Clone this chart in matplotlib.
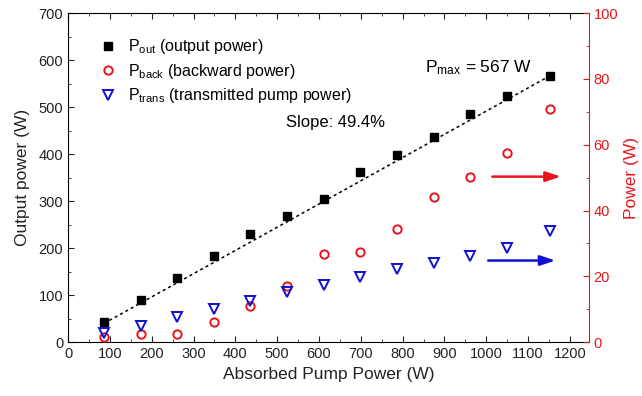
import matplotlib
matplotlib.use("Agg")
import matplotlib.pyplot as plt
import numpy as np
from matplotlib.ticker import MultipleLocator

plt.rcParams['font.family'] = ['Liberation Sans', 'DejaVu Sans']
plt.rcParams['mathtext.fontset'] = 'custom'
plt.rcParams['mathtext.rm'] = 'Liberation Sans'
plt.rcParams['mathtext.it'] = 'Liberation Sans:italic'

# Data
absorbed = [86, 174, 261, 348, 436, 523, 611, 699, 786, 874, 962, 1049, 1153]
p_out = [42, 89, 137, 184, 229, 268, 305, 361, 398, 437, 486, 523, 567]
p_back = [1.6, 2.4, 2.6, 6.0, 11.0, 17.0, 26.7, 27.4, 34.3, 44.2, 50.2, 57.4, 71.0]
p_trans = [2.8, 4.9, 7.7, 10.1, 12.5, 15.3, 17.5, 19.7, 22.3, 24.1, 26.1, 28.7, 33.7]
slope = 0.494
p_max = 567

red = '#e8141c'
blue = '#1010d0'

fig = plt.figure(figsize=(6.42, 3.96), dpi=100)
ax = fig.add_axes([0.106, 0.136, 0.811, 0.831])
ax2 = ax.twinx()

# fit line
xf = np.array([absorbed[0], absorbed[-1]])
b = p_max - slope * absorbed[-1]
ax.plot(xf, slope * xf + b, color='black', ls=(0, (2, 2)), lw=1.1, zorder=2)

h1, = ax.plot(absorbed, p_out, 's', color='black', ms=5.5, ls='none', zorder=3,
              label=r'P$_{\rm out}$ (output power)')
h2, = ax2.plot(absorbed, p_back, 'o', mfc='none', mec=red, mew=1.4, ms=6, ls='none',
               label=r'P$_{\rm back}$ (backward power)')
h3, = ax2.plot(absorbed, p_trans, 'v', mfc='none', mec=blue, mew=1.4, ms=6.5, ls='none',
               label=r'P$_{\rm trans}$ (transmitted pump power)')

ax.set_xlim(0, 1245)
ax.set_ylim(0, 700)
ax2.set_ylim(0, 100)

ax.xaxis.set_major_locator(MultipleLocator(100))
ax.xaxis.set_minor_locator(MultipleLocator(50))
ax.yaxis.set_major_locator(MultipleLocator(100))
ax.yaxis.set_minor_locator(MultipleLocator(50))
ax2.yaxis.set_major_locator(MultipleLocator(20))
ax2.yaxis.set_minor_locator(MultipleLocator(10))

ax.tick_params(which='both', direction='in', top=True, right=False, labelsize=10.5, colors='#222222')
ax.tick_params(which='major', length=4)
ax.tick_params(which='minor', length=2.5)
ax2.tick_params(which='both', direction='in', colors=red, labelsize=10.5)
ax2.tick_params(which='major', length=4)
ax2.tick_params(which='minor', length=2.5)
ax2.spines['right'].set_color(red)
for s in ['left', 'bottom', 'top']:
    ax2.spines[s].set_visible(False)
ax.spines['right'].set_visible(False)

ax.set_xlabel('Absorbed Pump Power (W)', fontsize=12.5, color='#222222')
ax.set_ylabel('Output power (W)', fontsize=12.5, color='#222222', labelpad=6)
ax2.set_ylabel('Power (W)', fontsize=12.5, color=red)

ax.text(639, 468, 'Slope: 49.4%', fontsize=12, ha='center', va='center')
ax.text(982, 583, r'P$_{\rm max}$ = 567 W', fontsize=12.5, ha='center', va='center')

ax2.annotate('', xy=(1185, 50.3), xytext=(1008, 50.3),
             arrowprops=dict(arrowstyle='-|>,head_length=0.9,head_width=0.3', color=red, lw=1.8))
ax2.annotate('', xy=(1172, 24.8), xytext=(998, 24.8),
             arrowprops=dict(arrowstyle='-|>,head_length=0.9,head_width=0.3', color=blue, lw=1.8))

ax2.legend(handles=[h1, h2, h3], loc='upper left', bbox_to_anchor=(0.03, 0.97),
           frameon=False, fontsize=11.5, handletextpad=0.7, labelspacing=0.35,
           handlelength=1.2)

fig.savefig('out.png', dpi=100)
